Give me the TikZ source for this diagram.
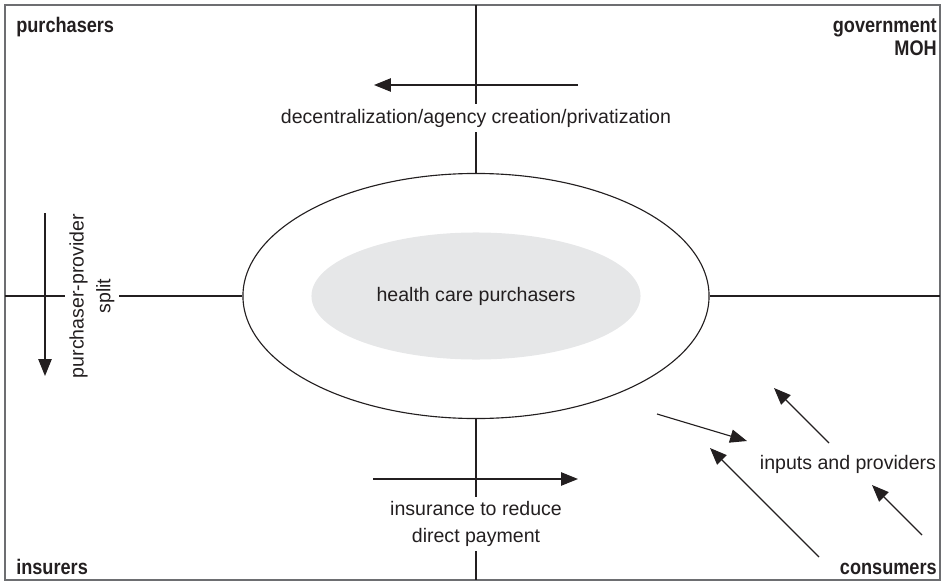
\documentclass[tikz,border=0pt]{standalone}
\usepackage{fontspec}
\setmainfont{Liberation Sans}
\newfontfamily\cornerfont[FakeStretch=0.86]{Liberation Sans}
\usetikzlibrary{arrows.meta, shapes.geometric}
\definecolor{inkgray}{HTML}{231F20}
\definecolor{framegray}{HTML}{6D6E71}
\definecolor{coregray}{HTML}{E6E7E8}
\tikzset{
  txt/.style={font=\fontsize{13.9}{19}\selectfont, text=inkgray, align=center},
  corner/.style={font=\cornerfont\bfseries\fontsize{15}{17}\selectfont, text=inkgray, inner sep=0pt},
  ln/.style={line width=0.8pt, draw=inkgray},
  arr/.style={ln, -{Triangle[length=12pt, width=9.5pt]}},
}

\begin{document}
\begin{tikzpicture}[x=0.025cm, y=-0.025cm]
    \useasboundingbox (0,0) rectangle (943,585);
    % frame
    \draw[framegray, line width=1pt] (5,5) rectangle (940,580);
    \coordinate (ntop) at (476,5);
    \coordinate (nbot) at (476,580);
    \coordinate (nleft) at (5,296);
    \coordinate (nright) at (940,296);

    % ellipses
    \node[ellipse, ln, minimum width=11.65cm, minimum height=6.125cm, inner sep=0pt] (outer) at (476,296) {};
    \node[ellipse, fill=coregray, minimum width=8.225cm, minimum height=3.175cm, txt] (core) at (476,296) {health care purchasers};

    % corners
    \node[corner, anchor=base west] (purch) at (16,32) {purchasers};
    \node[corner, anchor=base east] (gov) at (937,32) {government};
    \node[corner, anchor=base east] (moh) at (937,55) {MOH};
    \node[corner, anchor=base west] (insur) at (16,574) {insurers};
    \node[corner, anchor=base east] (cons) at (937,574) {consumers};

    % axis labels
    \node[txt] (decen) at (476,118) {decentralization/agency creation/privatization};
    \node[txt] (insred) at (476,524) {insurance to reduce\\direct payment};
    \node[txt, rotate=90] (split) at (92,296) {purchaser-provider\\split};
    \node[txt] (inputs) at (848,464) {inputs and providers};

    \draw[ln] (ntop) -- (decen.north);
    \draw[ln] (decen.south) -- (outer.north);
    \draw[ln] (outer.south) -- (insred.north);
    \draw[ln] (insred.south) -- (nbot);
    \draw[ln] (nleft) -- (split.north);
    \draw[ln] (split.south) -- (outer.west);
    \draw[ln] (outer.east) -- (nright);

    % arrows
    \coordinate (decA) at (578,85);
    \coordinate (decB) at (374,85);
    \draw[arr] (decA) -- (decB);
    \coordinate (insA) at (373,479);
    \coordinate (insB) at (578,479);
    \draw[arr] (insA) -- (insB);
    \coordinate (splA) at (45,213);
    \coordinate (splB) at (45,376);
    \draw[arr] (splA) -- (splB);

    \coordinate (inA) at (657,414);
    \coordinate (inB) at (747,441);
    \draw[arr] (inA) -- (inB);
    \coordinate (conA) at (819,557);
    \coordinate (conB) at (710,448);
    \draw[arr] (conA) -- (conB);
    \coordinate (provA) at (829,443);
    \coordinate (provB) at (774,388);
    \draw[arr] (provA) -- (provB);
    \coordinate (conC) at (922,535);
    \coordinate (conD) at (872,485);
    \draw[arr] (conC) -- (conD);
\end{tikzpicture}
\end{document}
